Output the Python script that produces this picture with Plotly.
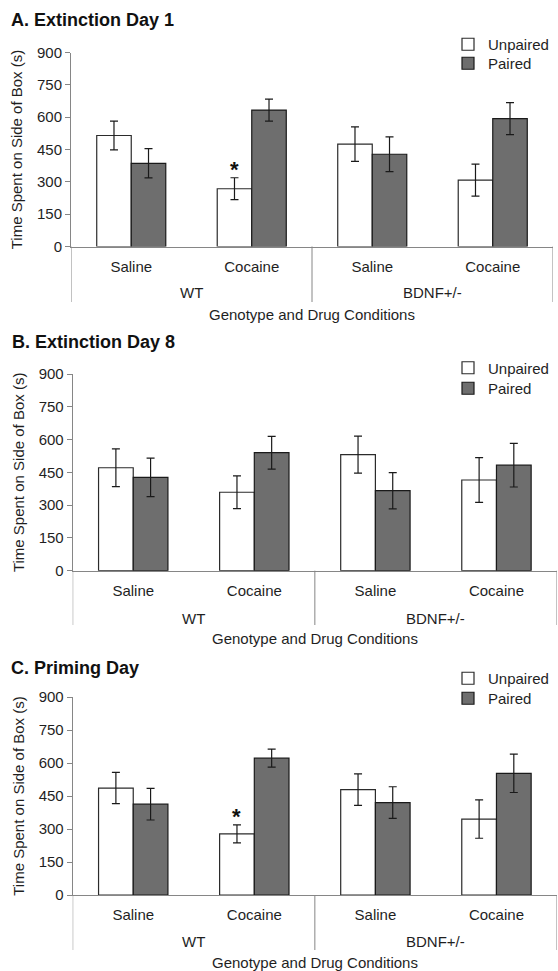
import plotly.graph_objects as go

# ---------------- data ----------------
genotypes = ["WT", "WT", "BDNF+/-", "BDNF+/-"]
drugs = ["Saline", "Cocaine", "Saline", "Cocaine"]
series_names = ["Unpaired", "Paired"]
panel_titles = ["A. Extinction Day 1", "B. Extinction Day 8", "C. Priming Day"]
y_title = "Time Spent on Side of Box (s)"
x_title = "Genotype and Drug Conditions"
y_ticks = [0, 150, 300, 450, 600, 750, 900]

a_unpaired = [515, 268, 475, 308]
a_unpaired_err = [67, 51, 80, 74]
a_paired = [386, 633, 428, 593]
a_paired_err = [68, 51, 81, 74]
a_sig = [False, True, False, False]

b_unpaired = [471, 359, 531, 415]
b_unpaired_err = [86, 75, 85, 102]
b_paired = [427, 540, 366, 483]
b_paired_err = [88, 75, 83, 100]
b_sig = [False, False, False, False]

c_unpaired = [486, 278, 479, 345]
c_unpaired_err = [71, 41, 72, 87]
c_paired = [413, 622, 420, 553]
c_paired_err = [72, 41, 72, 87]
c_sig = [False, True, False, False]

panels = [
    (a_unpaired, a_unpaired_err, a_paired, a_paired_err, a_sig),
    (b_unpaired, b_unpaired_err, b_paired, b_paired_err, b_sig),
    (c_unpaired, c_unpaired_err, c_paired, c_paired_err, c_sig),
]

# ---------------- styling / geometry (pixels) ----------------
W, H = 558, 971
FONT = "Liberation Sans, Arial, sans-serif"
TXT = "#1f1f1f"
AXC = "#868686"
BARGAP = 0.427
FILLS = ["white", "#6e6e6e"]
EDGES = ["#2b2b2b", "#1a1a1a"]
geo = [
    dict(x0=71, x1=553, ytop=52.5, ybot=246.5, geno=292.5, divb=302, xt=314, title=20, leg=[28, 47], tx=9),
    dict(x0=72.7, x1=557, ytop=374, ybot=570.7, geno=618, divb=625, xt=638, title=341.7, leg=[351.5, 372], tx=10),
    dict(x0=72.7, x1=557, ytop=697, ybot=895, geno=941, divb=950, xt=962, title=668, leg=[662, 682], tx=9),
]


def py(p):
    return 1 - p / H


keys = [g + " " + d for g, d in zip(genotypes, drugs)]
fig = go.Figure()
annotations = []
shapes = []
layout = {}

for i, (unp, unp_e, pai, pai_e, sig) in enumerate(panels):
    n = "" if i == 0 else str(i + 1)
    g = geo[i]
    xa, ya = "x" + n, "y" + n
    for j, (vals, errs) in enumerate([(unp, unp_e), (pai, pai_e)]):
        li = i * 2 + j + 1
        leg = "legend" if li == 1 else "legend" + str(li)
        fig.add_trace(go.Bar(
            x=keys, y=vals, name=series_names[j], xaxis=xa, yaxis=ya, legend=leg,
            offsetgroup=str(j), showlegend=True,
            marker=dict(color=FILLS[j], line=dict(color=EDGES[j], width=1.2)),
            error_y=dict(type="data", array=errs, color="#1a1a1a", thickness=1.2, width=4),
        ))
        layout[leg] = dict(
            x=448 / W, xanchor="left", y=py(g["leg"][j]), yanchor="top",
            bgcolor="rgba(0,0,0,0)", font=dict(family=FONT, size=15, color=TXT),
            itemwidth=30, visible=True,
        )
    ydom = [py(g["ybot"]), py(g["ytop"])]
    layout["xaxis" + n] = dict(
        domain=[g["x0"] / W, g["x1"] / W], anchor=ya, type="category",
        categoryorder="array", categoryarray=keys, automargin=False,
        tickvals=keys, ticktext=drugs, ticks="", showline=True, linecolor=AXC,
        linewidth=1, showgrid=False, zeroline=False, ticklabelstandoff=6,
        tickfont=dict(family=FONT, size=15, color=TXT), range=[-0.5, len(keys) - 0.5],
    )
    layout["yaxis" + n] = dict(
        domain=ydom, anchor=xa, range=[0, 900], tickvals=y_ticks, automargin=False,
        ticks="outside", ticklen=5, tickcolor=AXC, showline=True, linecolor=AXC,
        linewidth=1, showgrid=False, zeroline=False,
        tickfont=dict(family=FONT, size=15, color=TXT),
        title=dict(text=y_title, font=dict(family=FONT, size=15, color=TXT), standoff=10),
    )
    # genotype group labels and dividers
    groups = []
    for k, gname in enumerate(genotypes):
        if not groups or groups[-1][0] != gname:
            groups.append([gname, k, k])
        else:
            groups[-1][2] = k
    for gname, s, e in groups:
        annotations.append(dict(
            x=(s + e) / 2, xref=xa, y=py(g["geno"]), yref="paper", text=gname,
            showarrow=False, yanchor="middle", font=dict(family=FONT, size=15, color=TXT)))
        shapes.append(dict(type="line", xref=xa, yref="paper", x0=s - 0.5, x1=s - 0.5,
                           y0=ydom[0], y1=py(g["divb"]), line=dict(color=AXC, width=1)))
    shapes.append(dict(type="line", xref=xa, yref="paper", x0=len(keys) - 0.5, x1=len(keys) - 0.5,
                       y0=ydom[0], y1=py(g["divb"]), line=dict(color=AXC, width=1)))
    # x-axis title
    annotations.append(dict(
        x=(len(keys) - 1) / 2, xref=xa, y=py(g["xt"]), yref="paper", text=x_title,
        showarrow=False, yanchor="middle", font=dict(family=FONT, size=15, color=TXT)))
    # panel title
    annotations.append(dict(
        x=g["tx"] / W, xref="paper", xanchor="left", y=py(g["title"]), yref="paper",
        yanchor="middle", text="<b>" + panel_titles[i] + "</b>", showarrow=False,
        font=dict(family=FONT, size=18, color="#111")))
    # significance asterisks above unpaired bars
    for k, s in enumerate(sig):
        if s:
            annotations.append(dict(
                x=k - (1 - BARGAP) / 4, xref=xa, y=unp[k] + unp_e[k], yref=ya,
                text="<b>*</b>", showarrow=False, yanchor="bottom", yshift=-6,
                font=dict(family=FONT, size=22, color="#111")))

fig.update_layout(
    width=W, height=H, margin=dict(l=0, r=0, t=0, b=0, autoexpand=False),
    paper_bgcolor="white", plot_bgcolor="white", showlegend=True,
    barmode="group", bargap=BARGAP, bargroupgap=0,
    annotations=annotations, shapes=shapes, **layout,
)
fig.write_html(
    "out.html",
    config={"displayModeBar": False},
    post_script="document.body.style.margin='0';document.body.style.overflow='hidden';",
)
